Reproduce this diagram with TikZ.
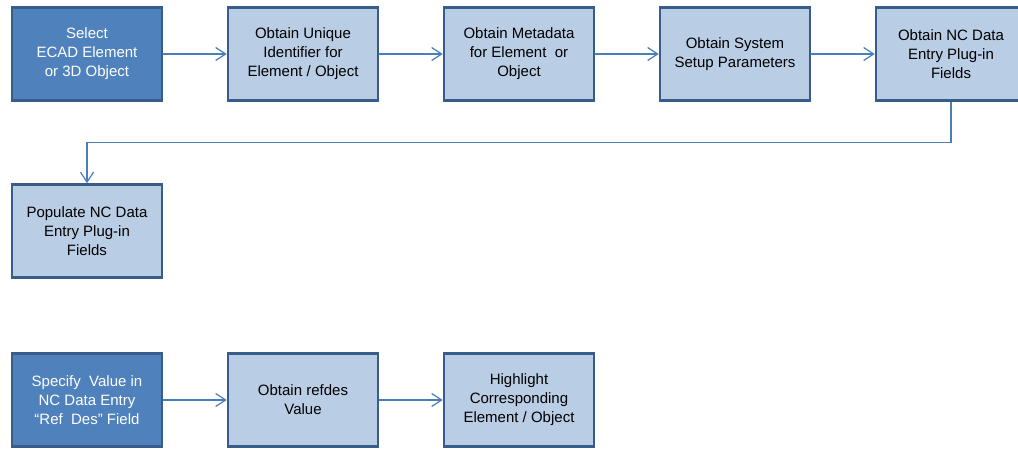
\documentclass[tikz,border=0pt]{standalone}
\usepackage{fontspec}
\setmainfont{Liberation Sans}
\usetikzlibrary{positioning, arrows.meta}

\definecolor{boxdark}{HTML}{4F81BD}
\definecolor{boxlight}{HTML}{B9CDE5}
\definecolor{boxline}{HTML}{385D8A}
\definecolor{flowline}{HTML}{4A7EBB}

\tikzset{
    stepbase/.style = {rectangle, draw = boxline, line width = 2.5pt, minimum width = 150pt, minimum height = 93pt, inner sep = 0pt, align = center, font = \fontsize{15}{19}\selectfont},
    startbox/.style = {stepbase, fill = boxdark, text = white},
    actbox/.style = {stepbase, fill = boxlight, text = black}
}

\begin{document}
\begin{tikzpicture}[>={Straight Barb[length=10pt, width=13pt]}, node distance = 216pt, on grid, x = 1pt, y = 1pt]
        \useasboundingbox (0,0) rectangle (1018,448);
        \node[startbox] (sel) at (87,394) {Select\\ECAD Element\\or 3D Object};
        \node[actbox] (uid) [right=of sel] {Obtain Unique\\Identifier for\\Element / Object};
        \node[actbox] (meta) [right=of uid] {Obtain Metadata\\for Element~ or\\Object};
        \node[actbox] (setup) [right=of meta] {Obtain System\\Setup Parameters};
        \node[actbox] (fields) [right=of setup] {Obtain NC Data\\Entry Plug-in\\Fields};
        \node[actbox] (pop) [below=177pt of sel] {Populate NC Data\\Entry Plug-in\\Fields};
        \node[startbox] (spec) [below=169pt of pop] {Specify~ Value in\\NC Data Entry\\“Ref~ Des” Field};
        \node[actbox] (ref) [right=of spec] {Obtain refdes\\Value};
        \node[actbox] (hl) [right=of ref] {Highlight\\Corresponding\\Element / Object};
        \path[->, draw = flowline, line width = 1.2pt]
        (sel) edge (uid)
        (uid) edge (meta)
        (meta) edge (setup)
        (setup) edge (fields)
        (spec) edge (ref)
        (ref) edge (hl)
        ;
        \draw[->, flowline, line width = 1.2pt] (fields.south) -- ++(0,-41) -| (pop.north);
    \end{tikzpicture}
\end{document}
